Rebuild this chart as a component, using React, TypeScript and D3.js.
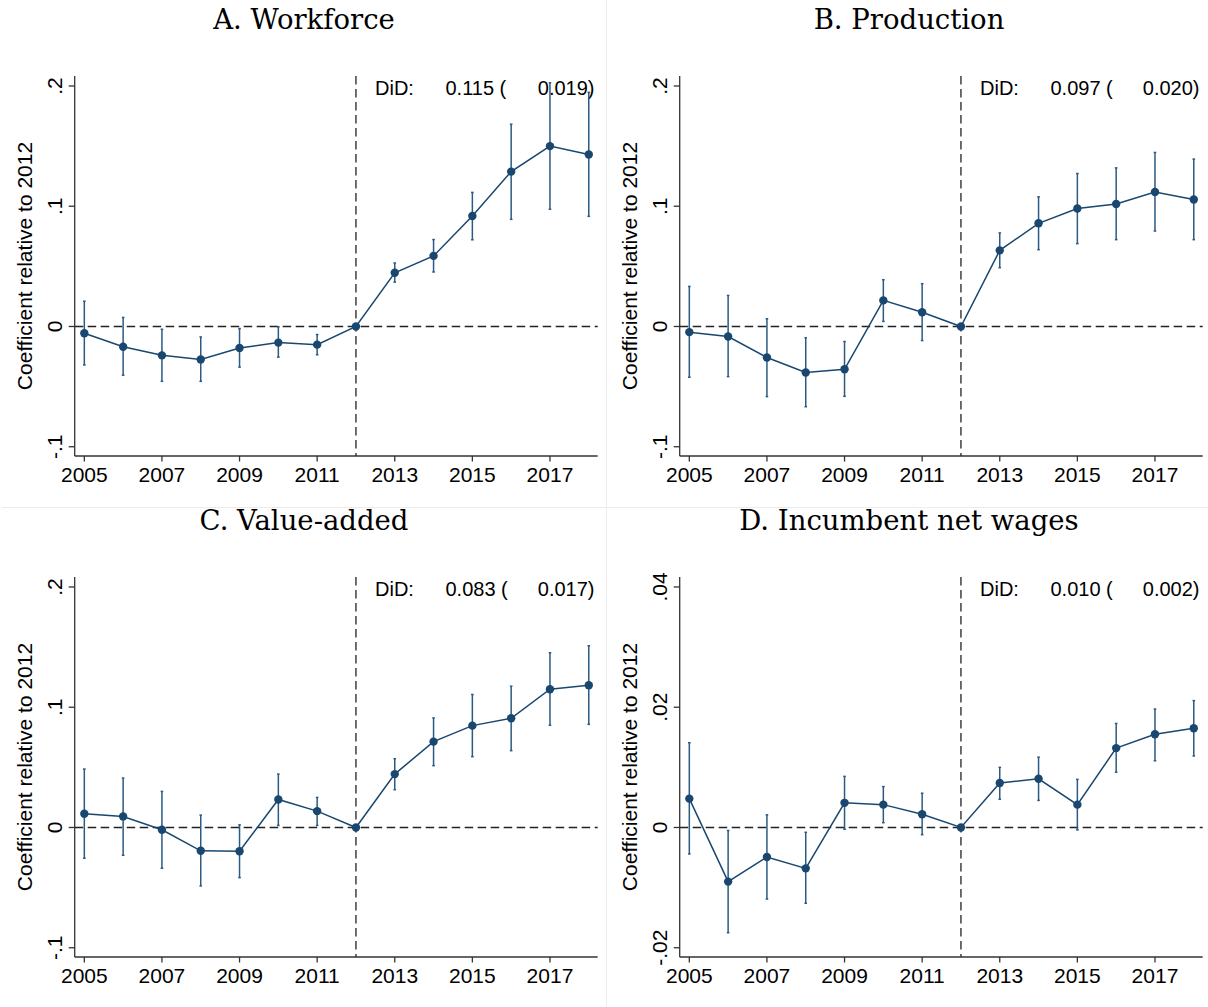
import React from "react";
import * as d3 from "d3";

const years = [2005, 2006, 2007, 2008, 2009, 2010, 2011, 2012, 2013, 2014, 2015, 2016, 2017, 2018];
const xTickYears = [2005, 2007, 2009, 2011, 2013, 2015, 2017];

const titles = ["A. Workforce", "B. Production", "C. Value-added", "D. Incumbent net wages"];
const didEst = ["0.115", "0.097", "0.083", "0.010"];
const didSe = ["0.019", "0.020", "0.017", "0.002"];

const coefA = [-0.0056, -0.0168, -0.024, -0.0274, -0.0179, -0.0134, -0.0151, 0, 0.0447, 0.0587, 0.0919, 0.1288, 0.15, 0.143];
const loA = [-0.032, -0.0405, -0.0456, -0.0456, -0.0338, -0.0255, -0.0235, null, 0.0369, 0.0453, 0.0721, 0.0891, 0.0975, 0.0916];
const hiA = [0.021, 0.0075, -0.0023, -0.0087, -0.0017, -0.0003, -0.0067, null, 0.0528, 0.0723, 0.1115, 0.1682, 0.2027, 0.1947];

const coefB = [-0.0047, -0.0083, -0.0258, -0.0383, -0.0356, 0.0217, 0.0119, 0, 0.0633, 0.0858, 0.0981, 0.1019, 0.1119, 0.1056];
const loB = [-0.0422, -0.0417, -0.0583, -0.0667, -0.0581, 0.0042, -0.0117, null, 0.0489, 0.0639, 0.0689, 0.0722, 0.0794, 0.0722];
const hiB = [0.0333, 0.0258, 0.0064, -0.0094, -0.0125, 0.0389, 0.0356, null, 0.0778, 0.1078, 0.1272, 0.1319, 0.1447, 0.1392];

const coefC = [0.0114, 0.0092, -0.0019, -0.0194, -0.0197, 0.0233, 0.0136, 0, 0.0444, 0.0714, 0.0847, 0.0908, 0.115, 0.1183];
const loC = [-0.0256, -0.0231, -0.0339, -0.0486, -0.0417, 0.0017, 0.0017, null, 0.0314, 0.0514, 0.0589, 0.0639, 0.085, 0.0858];
const hiC = [0.0486, 0.0411, 0.03, 0.0103, 0.0022, 0.0444, 0.025, null, 0.0572, 0.0911, 0.1106, 0.1175, 0.1453, 0.1511];

const coefD = [0.0048, -0.009, -0.0049, -0.0068, 0.0041, 0.0038, 0.0022, 0, 0.0074, 0.0081, 0.0038, 0.0132, 0.0155, 0.0165];
const loD = [-0.0044, -0.0175, -0.0119, -0.0126, -0.0003, 0.0008, -0.0012, null, 0.0047, 0.0045, -0.0004, 0.0092, 0.0111, 0.0119];
const hiD = [0.0141, -0.0005, 0.0021, -0.0008, 0.0085, 0.0068, 0.0057, null, 0.01, 0.0117, 0.008, 0.0173, 0.0197, 0.0211];

const yTicksMain = [-0.1, 0, 0.1, 0.2];
const yTickLabelsMain = ["-.1", "0", ".1", ".2"];
const yTicksD = [-0.02, 0, 0.02, 0.04];
const yTickLabelsD = ["-.02", "0", ".02", ".04"];

const W = 1208;
const H = 1007;
const NAVY = "#1a476f";
const SANS = "'Liberation Sans', Arial, Helvetica, sans-serif";
const SERIF = "'DejaVu Serif', 'Liberation Serif', serif";

type PanelProps = {
  ox: number;
  oy: number;
  title: string;
  coef: number[];
  lo: (number | null)[];
  hi: (number | null)[];
  yDomain: [number, number];
  yTicks: number[];
  yTickLabels: string[];
  est: string;
  se: string;
};

function Panel(p: PanelProps) {
  const left = p.ox + 74.7;
  const right = p.ox + 597.7;
  const top = p.oy + 76;
  const bottom = p.oy + 456;
  const x = d3.scaleLinear().domain([2004.752, 2018.23]).range([left, right]);
  const y = d3.scaleLinear().domain(p.yDomain).range([bottom, top]);
  const pts = years.map((yr, i) => [yr, p.coef[i]] as [number, number]);
  const line = d3.line<[number, number]>().x((d) => x(d[0])).y((d) => y(d[1]));
  const titleX = p.ox + 304;
  return (
    <g>
      <text x={titleX} y={p.oy + 28.5} textAnchor="middle" fontFamily={SERIF} fontSize={27.5} fill="#000">
        {p.title}
      </text>
      <line x1={left} x2={right} y1={y(0)} y2={y(0)} stroke="#222" strokeWidth={1.3} strokeDasharray="8.5,4.5" />
      <line x1={x(2012)} x2={x(2012)} y1={top} y2={bottom} stroke="#222" strokeWidth={1.3} strokeDasharray="8.5,4.5" />
      <line x1={left} x2={left} y1={top} y2={bottom} stroke="#333" strokeWidth={1.3} />
      <line x1={left} x2={right} y1={bottom} y2={bottom} stroke="#333" strokeWidth={1.3} />
      {p.yTicks.map((t, i) => (
        <g key={"yt" + i}>
          <line x1={left - 6} x2={left} y1={y(t)} y2={y(t)} stroke="#333" strokeWidth={1.3} />
          <text
            transform={`translate(${p.ox + 62},${y(t)}) rotate(-90)`}
            textAnchor="middle"
            fontFamily={SANS}
            fontSize={21}
            fill="#000"
          >
            {p.yTickLabels[i]}
          </text>
        </g>
      ))}
      {xTickYears.map((t) => (
        <g key={"xt" + t}>
          <line x1={x(t)} x2={x(t)} y1={bottom} y2={bottom + 5.5} stroke="#333" strokeWidth={1.3} />
          <text x={x(t)} y={p.oy + 481.7} textAnchor="middle" fontFamily={SANS} fontSize={21} fill="#000">
            {t}
          </text>
        </g>
      ))}
      <text
        transform={`translate(${p.ox + 31.5},${(top + bottom) / 2}) rotate(-90)`}
        textAnchor="middle"
        fontFamily={SANS}
        fontSize={21}
        fill="#000"
      >
        Coefficient relative to 2012
      </text>
      <text x={p.ox + 375} y={p.oy + 95} fontFamily={SANS} fontSize={20} fill="#000">
        DiD:
      </text>
      <text x={p.ox + 445.5} y={p.oy + 95} fontFamily={SANS} fontSize={20} fill="#000">
        {p.est + " ("}
      </text>
      <text x={p.ox + 594.5} y={p.oy + 95} textAnchor="end" fontFamily={SANS} fontSize={20} fill="#000">
        {p.se + ")"}
      </text>
      {years.map((yr, i) => {
        const l = p.lo[i];
        const h = p.hi[i];
        if (l === null || h === null) return null;
        const cx = x(yr);
        return (
          <g key={"ci" + yr} stroke="#2b5a84" strokeWidth={1.5} fill="none">
            <line x1={cx} x2={cx} y1={y(l)} y2={y(h)} />
            <line x1={cx - 1.3} x2={cx + 1.3} y1={y(l)} y2={y(l)} />
            <line x1={cx - 1.3} x2={cx + 1.3} y1={y(h)} y2={y(h)} />
          </g>
        );
      })}
      <path d={line(pts) || ""} fill="none" stroke={NAVY} strokeWidth={1.5} />
      {pts.map((d) => (
        <circle key={"pt" + d[0]} cx={x(d[0])} cy={y(d[1])} r={4.2} fill={NAVY} />
      ))}
    </g>
  );
}

export default function App() {
  const mainDomain: [number, number] = [-0.1077, 0.2083];
  const dDomain: [number, number] = [-0.02154, 0.04166];
  return (
    <svg
      width={W}
      height={H}
      viewBox={`0 0 ${W} ${H}`}
      style={{ position: "absolute", left: 0, top: 0, background: "#fff" }}
    >
      <rect x={0} y={0} width={W} height={H} fill="#fff" />
      <line x1={606.5} x2={606.5} y1={0} y2={H} stroke="#ececec" strokeWidth={1} />
      <line x1={2} x2={W} y1={507.5} y2={507.5} stroke="#ececec" strokeWidth={1} />
      <Panel ox={0} oy={0} title={titles[0]} coef={coefA} lo={loA} hi={hiA} yDomain={mainDomain}
        yTicks={yTicksMain} yTickLabels={yTickLabelsMain} est={didEst[0]} se={didSe[0]} />
      <Panel ox={605} oy={0} title={titles[1]} coef={coefB} lo={loB} hi={hiB} yDomain={mainDomain}
        yTicks={yTicksMain} yTickLabels={yTickLabelsMain} est={didEst[1]} se={didSe[1]} />
      <Panel ox={0} oy={501} title={titles[2]} coef={coefC} lo={loC} hi={hiC} yDomain={mainDomain}
        yTicks={yTicksMain} yTickLabels={yTickLabelsMain} est={didEst[2]} se={didSe[2]} />
      <Panel ox={605} oy={501} title={titles[3]} coef={coefD} lo={loD} hi={hiD} yDomain={dDomain}
        yTicks={yTicksD} yTickLabels={yTickLabelsD} est={didEst[3]} se={didSe[3]} />
    </svg>
  );
}
